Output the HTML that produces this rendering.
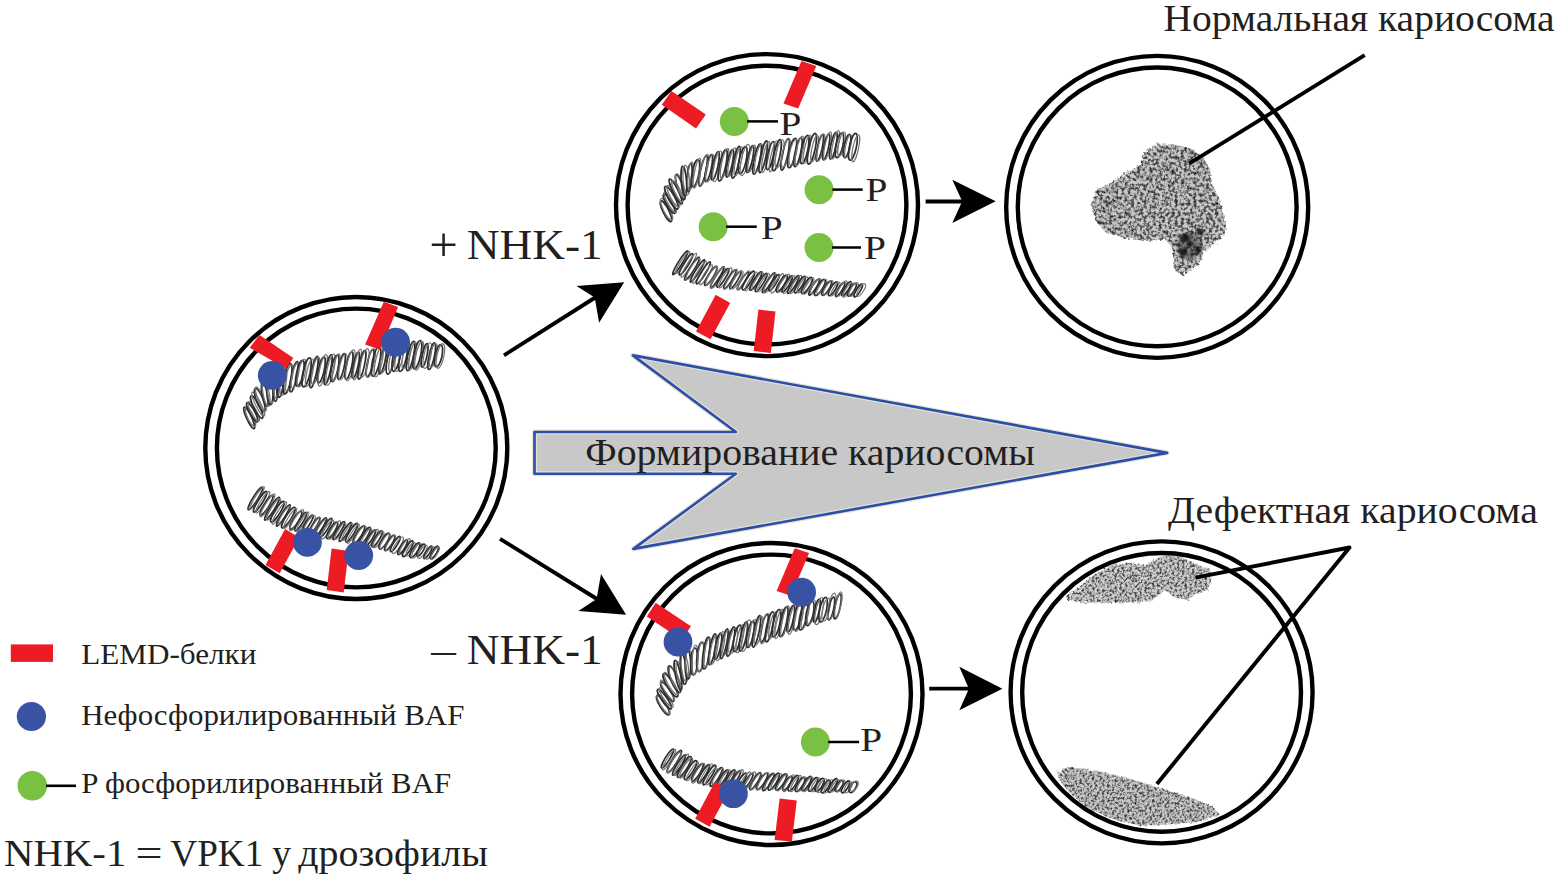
<!DOCTYPE html>
<html><head><meta charset="utf-8">
<style>
html,body{margin:0;padding:0;background:#fff;width:1555px;height:877px;overflow:hidden}
svg{display:block}
text{font-family:"Liberation Serif",serif;fill:#231f20}
</style></head><body>
<svg width="1555" height="877" viewBox="0 0 1555 877">
<defs>
<filter id="noise1" x="-5%" y="-5%" width="110%" height="110%" color-interpolation-filters="sRGB">
<feTurbulence type="fractalNoise" baseFrequency="0.32" numOctaves="3" seed="3" result="t"/>
<feDisplacementMap in="SourceGraphic" in2="t" scale="5" result="d"/>
<feColorMatrix in="t" type="matrix" values="1.1 0 0 0 -0.05  1.1 0 0 0 -0.05  1.1 0 0 0 -0.05  -4.2 0 0 0 2.7" result="a"/>
<feComposite in="a" in2="d" operator="in"/>
</filter>
<filter id="noise2" x="-5%" y="-5%" width="110%" height="110%" color-interpolation-filters="sRGB">
<feTurbulence type="fractalNoise" baseFrequency="0.4" numOctaves="3" seed="9" result="t"/>
<feDisplacementMap in="SourceGraphic" in2="t" scale="4" result="d"/>
<feColorMatrix in="t" type="matrix" values="1.1 0 0 0 0.0  1.1 0 0 0 0.0  1.1 0 0 0 0.0  -4.0 0 0 0 2.55" result="a"/>
<feComposite in="a" in2="d" operator="in"/>
</filter>
<filter id="soft" x="-20%" y="-20%" width="140%" height="140%"><feGaussianBlur stdDeviation="1.2"/></filter>
<filter id="disp1" x="-5%" y="-5%" width="110%" height="110%"><feTurbulence type="fractalNoise" baseFrequency="0.32" numOctaves="3" seed="3" result="t"/><feDisplacementMap in="SourceGraphic" in2="t" scale="5"/></filter>
</defs>
<g filter="url(#disp1)"><polygon points="1143.3,152.1 1157.0,143.6 1175.8,144.4 1191.2,149.5 1203.2,157.2 1210.0,169.2 1211.8,184.6 1220.3,200.0 1223.7,215.4 1227.2,230.8 1216.9,241.1 1204.9,251.4 1198.1,265.0 1182.7,275.3 1174.1,270.2 1172.4,247.9 1165.6,239.4 1145.0,241.1 1122.8,237.7 1105.7,232.5 1095.4,220.6 1091.1,205.2 1097.1,189.8 1114.2,181.2 1127.9,170.9 1139.9,165.8" fill="#8a8a8a" opacity="0.45"/></g><g filter="url(#noise1)"><polygon points="1143.3,152.1 1157.0,143.6 1175.8,144.4 1191.2,149.5 1203.2,157.2 1210.0,169.2 1211.8,184.6 1220.3,200.0 1223.7,215.4 1227.2,230.8 1216.9,241.1 1204.9,251.4 1198.1,265.0 1182.7,275.3 1174.1,270.2 1172.4,247.9 1165.6,239.4 1145.0,241.1 1122.8,237.7 1105.7,232.5 1095.4,220.6 1091.1,205.2 1097.1,189.8 1114.2,181.2 1127.9,170.9 1139.9,165.8" fill="#000"/></g><ellipse cx="1189" cy="246" rx="12" ry="14" fill="#222" opacity="0.45" filter="url(#soft)"/><g fill="#111" opacity="0.8" filter="url(#soft)"><ellipse cx="1185" cy="238" rx="5" ry="4"/><ellipse cx="1200" cy="232" rx="4" ry="3.5"/><ellipse cx="1183" cy="252" rx="4" ry="4"/><ellipse cx="1198" cy="250" rx="3.5" ry="3"/><ellipse cx="1190" cy="244" rx="3" ry="3"/><ellipse cx="1108" cy="203" rx="2.2" ry="2"/><ellipse cx="1100" cy="222" rx="1.6" ry="1.6"/><ellipse cx="1192" cy="152" rx="2" ry="2"/><ellipse cx="1151" cy="170" rx="2" ry="1.5"/><ellipse cx="1172" cy="172" rx="2.2" ry="1.8"/><ellipse cx="1210" cy="217" rx="1.5" ry="1.5"/></g><g filter="url(#disp1)"><polygon points="1065.8,596.8 1078.1,587.8 1095.0,574.3 1111.9,565.3 1128.8,563.0 1145.7,565.3 1155.8,559.6 1164.8,555.7 1179.4,556.8 1191.8,561.9 1201.9,566.4 1209.8,568.6 1210.9,581.0 1207.6,590.0 1196.3,593.4 1187.3,600.1 1173.8,596.8 1164.8,590.0 1151.3,601.3 1134.4,602.4 1106.3,602.4 1083.8,602.4 1066.9,600.1" fill="#8a8a8a" opacity="0.4"/></g><g filter="url(#noise2)"><polygon points="1065.8,596.8 1078.1,587.8 1095.0,574.3 1111.9,565.3 1128.8,563.0 1145.7,565.3 1155.8,559.6 1164.8,555.7 1179.4,556.8 1191.8,561.9 1201.9,566.4 1209.8,568.6 1210.9,581.0 1207.6,590.0 1196.3,593.4 1187.3,600.1 1173.8,596.8 1164.8,590.0 1151.3,601.3 1134.4,602.4 1106.3,602.4 1083.8,602.4 1066.9,600.1" fill="#000"/></g><g filter="url(#disp1)"><polygon points="1056.7,773.2 1068.3,767.1 1092.8,770.2 1123.3,776.9 1160.0,787.9 1184.4,795.2 1212.5,806.2 1219.8,814.8 1196.6,822.1 1166.1,824.5 1141.6,825.8 1111.1,818.4 1086.7,807.4 1069.6,792.8 1059.8,780.5" fill="#8a8a8a" opacity="0.45"/></g><g filter="url(#noise2)"><polygon points="1056.7,773.2 1068.3,767.1 1092.8,770.2 1123.3,776.9 1160.0,787.9 1184.4,795.2 1212.5,806.2 1219.8,814.8 1196.6,822.1 1166.1,824.5 1141.6,825.8 1111.1,818.4 1086.7,807.4 1069.6,792.8 1059.8,780.5" fill="#000"/></g><g fill="none" stroke-linejoin="round" stroke-linecap="round"><g opacity="0.92"><ellipse cx="249.2" cy="417.9" rx="2.5" ry="11.8" transform="rotate(-24.7 249.2 417.9)" stroke="#1e1e1e" stroke-width="1.70"/><ellipse cx="250.5" cy="416.8" rx="3.0" ry="10.3" transform="rotate(-24.7 250.5 416.8)" stroke="#6a6a6a" stroke-width="1.19"/><ellipse cx="252.2" cy="412.3" rx="2.5" ry="10.8" transform="rotate(-28.7 252.2 412.3)" stroke="#1e1e1e" stroke-width="1.70"/><ellipse cx="253.7" cy="411.4" rx="2.7" ry="10.9" transform="rotate(-28.7 253.7 411.4)" stroke="#6a6a6a" stroke-width="1.19"/><ellipse cx="256.7" cy="407.1" rx="2.9" ry="12.5" transform="rotate(-26.5 256.7 407.1)" stroke="#1e1e1e" stroke-width="1.70"/><ellipse cx="258.2" cy="404.1" rx="2.7" ry="13.3" transform="rotate(-26.5 258.2 404.1)" stroke="#6a6a6a" stroke-width="1.19"/><ellipse cx="259.7" cy="399.9" rx="3.4" ry="12.3" transform="rotate(-20.8 259.7 399.9)" stroke="#1e1e1e" stroke-width="1.70"/><ellipse cx="260.8" cy="399.2" rx="2.8" ry="13.2" transform="rotate(-20.8 260.8 399.2)" stroke="#6a6a6a" stroke-width="1.19"/><ellipse cx="264.8" cy="394.4" rx="2.6" ry="12.1" transform="rotate(-10.7 264.8 394.4)" stroke="#1e1e1e" stroke-width="1.70"/><ellipse cx="266.2" cy="393.7" rx="3.1" ry="12.8" transform="rotate(-10.7 266.2 393.7)" stroke="#6a6a6a" stroke-width="1.19"/><ellipse cx="269.8" cy="390.0" rx="3.2" ry="14.6" transform="rotate(-3.1 269.8 390.0)" stroke="#1e1e1e" stroke-width="1.70"/><ellipse cx="270.8" cy="389.3" rx="3.5" ry="13.8" transform="rotate(-3.1 270.8 389.3)" stroke="#6a6a6a" stroke-width="1.19"/><ellipse cx="275.7" cy="385.7" rx="2.5" ry="15.7" transform="rotate(1.5 275.7 385.7)" stroke="#1e1e1e" stroke-width="1.70"/><ellipse cx="276.7" cy="385.4" rx="3.0" ry="13.2" transform="rotate(1.5 276.7 385.4)" stroke="#6a6a6a" stroke-width="1.19"/><ellipse cx="280.4" cy="382.4" rx="3.1" ry="15.1" transform="rotate(6.2 280.4 382.4)" stroke="#1e1e1e" stroke-width="1.70"/><ellipse cx="283.3" cy="380.9" rx="3.1" ry="14.9" transform="rotate(6.2 283.3 380.9)" stroke="#6a6a6a" stroke-width="1.19"/><ellipse cx="287.5" cy="378.7" rx="3.5" ry="15.4" transform="rotate(10.7 287.5 378.7)" stroke="#1e1e1e" stroke-width="1.70"/><ellipse cx="288.9" cy="378.2" rx="3.2" ry="13.1" transform="rotate(10.7 288.9 378.2)" stroke="#6a6a6a" stroke-width="1.19"/><ellipse cx="294.0" cy="376.8" rx="2.7" ry="15.5" transform="rotate(12.0 294.0 376.8)" stroke="#1e1e1e" stroke-width="1.70"/><ellipse cx="295.2" cy="375.6" rx="3.0" ry="13.0" transform="rotate(12.0 295.2 375.6)" stroke="#6a6a6a" stroke-width="1.19"/><ellipse cx="299.9" cy="373.3" rx="3.3" ry="13.2" transform="rotate(12.0 299.9 373.3)" stroke="#1e1e1e" stroke-width="1.70"/><ellipse cx="301.6" cy="373.1" rx="3.4" ry="14.2" transform="rotate(12.0 301.6 373.1)" stroke="#6a6a6a" stroke-width="1.19"/><ellipse cx="306.6" cy="372.4" rx="3.5" ry="14.8" transform="rotate(12.0 306.6 372.4)" stroke="#1e1e1e" stroke-width="1.70"/><ellipse cx="309.6" cy="372.7" rx="2.9" ry="14.0" transform="rotate(12.0 309.6 372.7)" stroke="#6a6a6a" stroke-width="1.19"/><ellipse cx="314.0" cy="372.0" rx="2.6" ry="16.1" transform="rotate(12.0 314.0 372.0)" stroke="#1e1e1e" stroke-width="1.70"/><ellipse cx="315.5" cy="370.7" rx="3.0" ry="13.9" transform="rotate(12.0 315.5 370.7)" stroke="#6a6a6a" stroke-width="1.19"/><ellipse cx="321.3" cy="370.0" rx="2.9" ry="13.2" transform="rotate(12.0 321.3 370.0)" stroke="#1e1e1e" stroke-width="1.70"/><ellipse cx="322.7" cy="370.3" rx="3.2" ry="16.1" transform="rotate(12.0 322.7 370.3)" stroke="#6a6a6a" stroke-width="1.19"/><ellipse cx="328.1" cy="369.7" rx="2.5" ry="15.3" transform="rotate(12.0 328.1 369.7)" stroke="#1e1e1e" stroke-width="1.70"/><ellipse cx="330.5" cy="369.7" rx="3.4" ry="15.9" transform="rotate(12.0 330.5 369.7)" stroke="#6a6a6a" stroke-width="1.19"/><ellipse cx="334.8" cy="368.3" rx="3.2" ry="13.5" transform="rotate(12.0 334.8 368.3)" stroke="#1e1e1e" stroke-width="1.70"/><ellipse cx="336.1" cy="367.4" rx="2.6" ry="13.8" transform="rotate(12.0 336.1 367.4)" stroke="#6a6a6a" stroke-width="1.19"/><ellipse cx="341.6" cy="366.6" rx="2.6" ry="13.2" transform="rotate(12.0 341.6 366.6)" stroke="#1e1e1e" stroke-width="1.70"/><ellipse cx="343.0" cy="366.8" rx="3.4" ry="13.3" transform="rotate(12.0 343.0 366.8)" stroke="#6a6a6a" stroke-width="1.19"/><ellipse cx="349.0" cy="365.6" rx="2.8" ry="14.0" transform="rotate(12.0 349.0 365.6)" stroke="#1e1e1e" stroke-width="1.70"/><ellipse cx="350.4" cy="365.3" rx="3.6" ry="15.8" transform="rotate(12.0 350.4 365.3)" stroke="#6a6a6a" stroke-width="1.19"/><ellipse cx="355.7" cy="365.1" rx="2.5" ry="13.4" transform="rotate(12.0 355.7 365.1)" stroke="#1e1e1e" stroke-width="1.70"/><ellipse cx="357.3" cy="364.5" rx="2.6" ry="15.7" transform="rotate(12.0 357.3 364.5)" stroke="#6a6a6a" stroke-width="1.19"/><ellipse cx="361.9" cy="364.8" rx="2.6" ry="14.7" transform="rotate(12.0 361.9 364.8)" stroke="#1e1e1e" stroke-width="1.70"/><ellipse cx="364.5" cy="363.0" rx="3.6" ry="14.7" transform="rotate(12.0 364.5 363.0)" stroke="#6a6a6a" stroke-width="1.19"/><ellipse cx="370.1" cy="363.2" rx="2.8" ry="13.8" transform="rotate(12.0 370.1 363.2)" stroke="#1e1e1e" stroke-width="1.70"/><ellipse cx="370.8" cy="363.0" rx="3.3" ry="14.7" transform="rotate(12.0 370.8 363.0)" stroke="#6a6a6a" stroke-width="1.19"/><ellipse cx="376.1" cy="361.1" rx="3.6" ry="15.4" transform="rotate(12.0 376.1 361.1)" stroke="#1e1e1e" stroke-width="1.70"/><ellipse cx="378.7" cy="361.7" rx="3.3" ry="15.5" transform="rotate(12.0 378.7 361.7)" stroke="#6a6a6a" stroke-width="1.19"/><ellipse cx="382.8" cy="360.2" rx="2.4" ry="14.0" transform="rotate(12.0 382.8 360.2)" stroke="#1e1e1e" stroke-width="1.70"/><ellipse cx="384.3" cy="359.4" rx="3.2" ry="13.7" transform="rotate(12.0 384.3 359.4)" stroke="#6a6a6a" stroke-width="1.19"/><ellipse cx="390.9" cy="358.7" rx="3.6" ry="15.7" transform="rotate(12.0 390.9 358.7)" stroke="#1e1e1e" stroke-width="1.70"/><ellipse cx="392.6" cy="358.2" rx="2.7" ry="13.5" transform="rotate(12.0 392.6 358.2)" stroke="#6a6a6a" stroke-width="1.19"/><ellipse cx="396.5" cy="357.0" rx="3.5" ry="14.6" transform="rotate(12.0 396.5 357.0)" stroke="#1e1e1e" stroke-width="1.70"/><ellipse cx="399.3" cy="357.1" rx="3.4" ry="14.7" transform="rotate(12.0 399.3 357.1)" stroke="#6a6a6a" stroke-width="1.19"/><ellipse cx="403.2" cy="356.6" rx="3.3" ry="15.2" transform="rotate(12.0 403.2 356.6)" stroke="#1e1e1e" stroke-width="1.70"/><ellipse cx="406.1" cy="356.0" rx="3.3" ry="13.0" transform="rotate(12.0 406.1 356.0)" stroke="#6a6a6a" stroke-width="1.19"/><ellipse cx="410.6" cy="356.0" rx="2.9" ry="15.0" transform="rotate(12.0 410.6 356.0)" stroke="#1e1e1e" stroke-width="1.70"/><ellipse cx="412.5" cy="356.1" rx="2.6" ry="14.3" transform="rotate(12.0 412.5 356.1)" stroke="#6a6a6a" stroke-width="1.19"/><ellipse cx="417.3" cy="354.7" rx="3.4" ry="14.5" transform="rotate(12.0 417.3 354.7)" stroke="#1e1e1e" stroke-width="1.70"/><ellipse cx="419.1" cy="355.7" rx="3.2" ry="14.7" transform="rotate(12.0 419.1 355.7)" stroke="#6a6a6a" stroke-width="1.19"/><ellipse cx="424.6" cy="355.4" rx="2.4" ry="12.0" transform="rotate(12.0 424.6 355.4)" stroke="#1e1e1e" stroke-width="1.70"/><ellipse cx="427.4" cy="355.6" rx="3.5" ry="13.1" transform="rotate(12.0 427.4 355.6)" stroke="#6a6a6a" stroke-width="1.19"/><ellipse cx="431.7" cy="356.2" rx="2.7" ry="13.6" transform="rotate(12.0 431.7 356.2)" stroke="#1e1e1e" stroke-width="1.70"/><ellipse cx="433.3" cy="355.4" rx="3.1" ry="12.0" transform="rotate(12.0 433.3 355.4)" stroke="#6a6a6a" stroke-width="1.19"/><ellipse cx="438.5" cy="355.8" rx="3.5" ry="11.4" transform="rotate(12.0 438.5 355.8)" stroke="#1e1e1e" stroke-width="1.70"/><ellipse cx="440.4" cy="356.0" rx="3.5" ry="12.6" transform="rotate(12.0 440.4 356.0)" stroke="#6a6a6a" stroke-width="1.19"/></g><g opacity="0.92"><ellipse cx="255.4" cy="498.4" rx="2.4" ry="13.3" transform="rotate(32.0 255.4 498.4)" stroke="#1e1e1e" stroke-width="1.70"/><ellipse cx="257.1" cy="497.9" rx="2.1" ry="13.1" transform="rotate(32.0 257.1 497.9)" stroke="#6a6a6a" stroke-width="1.19"/><ellipse cx="260.2" cy="501.7" rx="2.4" ry="12.1" transform="rotate(32.0 260.2 501.7)" stroke="#1e1e1e" stroke-width="1.70"/><ellipse cx="262.8" cy="502.3" rx="2.4" ry="12.5" transform="rotate(32.0 262.8 502.3)" stroke="#6a6a6a" stroke-width="1.19"/><ellipse cx="266.5" cy="505.3" rx="2.5" ry="11.6" transform="rotate(32.0 266.5 505.3)" stroke="#1e1e1e" stroke-width="1.70"/><ellipse cx="267.5" cy="505.4" rx="2.4" ry="13.4" transform="rotate(32.0 267.5 505.4)" stroke="#6a6a6a" stroke-width="1.19"/><ellipse cx="272.0" cy="508.7" rx="2.3" ry="13.4" transform="rotate(32.0 272.0 508.7)" stroke="#1e1e1e" stroke-width="1.70"/><ellipse cx="273.6" cy="509.2" rx="2.6" ry="12.4" transform="rotate(32.0 273.6 509.2)" stroke="#6a6a6a" stroke-width="1.19"/><ellipse cx="277.4" cy="511.7" rx="2.8" ry="12.0" transform="rotate(32.0 277.4 511.7)" stroke="#1e1e1e" stroke-width="1.70"/><ellipse cx="279.3" cy="513.1" rx="2.2" ry="13.1" transform="rotate(32.0 279.3 513.1)" stroke="#6a6a6a" stroke-width="1.19"/><ellipse cx="283.3" cy="515.4" rx="2.1" ry="12.5" transform="rotate(32.0 283.3 515.4)" stroke="#1e1e1e" stroke-width="1.70"/><ellipse cx="284.2" cy="515.4" rx="2.2" ry="10.6" transform="rotate(32.0 284.2 515.4)" stroke="#6a6a6a" stroke-width="1.19"/><ellipse cx="288.4" cy="517.6" rx="2.8" ry="12.0" transform="rotate(32.0 288.4 517.6)" stroke="#1e1e1e" stroke-width="1.70"/><ellipse cx="290.2" cy="518.4" rx="2.1" ry="11.8" transform="rotate(32.0 290.2 518.4)" stroke="#6a6a6a" stroke-width="1.19"/><ellipse cx="295.8" cy="520.4" rx="2.8" ry="10.4" transform="rotate(32.0 295.8 520.4)" stroke="#1e1e1e" stroke-width="1.70"/><ellipse cx="296.7" cy="520.2" rx="2.7" ry="12.2" transform="rotate(32.0 296.7 520.2)" stroke="#6a6a6a" stroke-width="1.19"/><ellipse cx="300.8" cy="521.6" rx="2.2" ry="10.9" transform="rotate(32.0 300.8 521.6)" stroke="#1e1e1e" stroke-width="1.70"/><ellipse cx="302.6" cy="521.9" rx="1.9" ry="11.4" transform="rotate(32.0 302.6 521.9)" stroke="#6a6a6a" stroke-width="1.19"/><ellipse cx="307.7" cy="523.4" rx="2.2" ry="9.7" transform="rotate(32.0 307.7 523.4)" stroke="#1e1e1e" stroke-width="1.70"/><ellipse cx="309.5" cy="524.0" rx="2.9" ry="9.8" transform="rotate(32.0 309.5 524.0)" stroke="#6a6a6a" stroke-width="1.19"/><ellipse cx="314.3" cy="525.9" rx="2.2" ry="9.9" transform="rotate(32.0 314.3 525.9)" stroke="#1e1e1e" stroke-width="1.70"/><ellipse cx="314.9" cy="526.1" rx="2.0" ry="10.2" transform="rotate(32.0 314.9 526.1)" stroke="#6a6a6a" stroke-width="1.19"/><ellipse cx="320.1" cy="527.5" rx="2.2" ry="11.4" transform="rotate(32.0 320.1 527.5)" stroke="#1e1e1e" stroke-width="1.70"/><ellipse cx="321.4" cy="527.9" rx="2.6" ry="10.9" transform="rotate(32.0 321.4 527.9)" stroke="#6a6a6a" stroke-width="1.19"/><ellipse cx="325.8" cy="527.7" rx="2.3" ry="11.0" transform="rotate(32.0 325.8 527.7)" stroke="#1e1e1e" stroke-width="1.70"/><ellipse cx="327.6" cy="529.5" rx="2.7" ry="10.9" transform="rotate(32.0 327.6 529.5)" stroke="#6a6a6a" stroke-width="1.19"/><ellipse cx="332.1" cy="530.4" rx="2.7" ry="9.6" transform="rotate(32.0 332.1 530.4)" stroke="#1e1e1e" stroke-width="1.70"/><ellipse cx="334.5" cy="530.0" rx="2.8" ry="10.7" transform="rotate(32.0 334.5 530.0)" stroke="#6a6a6a" stroke-width="1.19"/><ellipse cx="338.8" cy="530.6" rx="2.1" ry="10.6" transform="rotate(32.0 338.8 530.6)" stroke="#1e1e1e" stroke-width="1.70"/><ellipse cx="340.3" cy="531.0" rx="2.1" ry="9.5" transform="rotate(32.0 340.3 531.0)" stroke="#6a6a6a" stroke-width="1.19"/><ellipse cx="345.3" cy="532.0" rx="2.2" ry="11.0" transform="rotate(32.0 345.3 532.0)" stroke="#1e1e1e" stroke-width="1.70"/><ellipse cx="347.3" cy="532.1" rx="1.9" ry="10.1" transform="rotate(32.0 347.3 532.1)" stroke="#6a6a6a" stroke-width="1.19"/><ellipse cx="351.6" cy="532.7" rx="2.4" ry="10.8" transform="rotate(32.0 351.6 532.7)" stroke="#1e1e1e" stroke-width="1.70"/><ellipse cx="353.2" cy="533.8" rx="2.0" ry="11.2" transform="rotate(32.0 353.2 533.8)" stroke="#6a6a6a" stroke-width="1.19"/><ellipse cx="358.9" cy="534.6" rx="2.7" ry="10.1" transform="rotate(32.0 358.9 534.6)" stroke="#1e1e1e" stroke-width="1.70"/><ellipse cx="360.0" cy="535.0" rx="2.9" ry="10.6" transform="rotate(32.0 360.0 535.0)" stroke="#6a6a6a" stroke-width="1.19"/><ellipse cx="364.5" cy="536.5" rx="2.5" ry="10.5" transform="rotate(32.0 364.5 536.5)" stroke="#1e1e1e" stroke-width="1.70"/><ellipse cx="366.3" cy="536.1" rx="2.0" ry="9.1" transform="rotate(32.0 366.3 536.1)" stroke="#6a6a6a" stroke-width="1.19"/><ellipse cx="370.4" cy="537.9" rx="2.1" ry="9.4" transform="rotate(32.0 370.4 537.9)" stroke="#1e1e1e" stroke-width="1.70"/><ellipse cx="372.1" cy="538.5" rx="2.6" ry="10.7" transform="rotate(32.0 372.1 538.5)" stroke="#6a6a6a" stroke-width="1.19"/><ellipse cx="377.0" cy="538.8" rx="2.4" ry="9.3" transform="rotate(32.0 377.0 538.8)" stroke="#1e1e1e" stroke-width="1.70"/><ellipse cx="378.5" cy="539.6" rx="2.8" ry="9.3" transform="rotate(32.0 378.5 539.6)" stroke="#6a6a6a" stroke-width="1.19"/><ellipse cx="384.3" cy="541.1" rx="2.8" ry="9.1" transform="rotate(32.0 384.3 541.1)" stroke="#1e1e1e" stroke-width="1.70"/><ellipse cx="385.0" cy="541.3" rx="2.3" ry="8.6" transform="rotate(32.0 385.0 541.3)" stroke="#6a6a6a" stroke-width="1.19"/><ellipse cx="389.8" cy="542.9" rx="2.4" ry="8.9" transform="rotate(32.0 389.8 542.9)" stroke="#1e1e1e" stroke-width="1.70"/><ellipse cx="390.7" cy="543.0" rx="2.3" ry="8.7" transform="rotate(32.0 390.7 543.0)" stroke="#6a6a6a" stroke-width="1.19"/><ellipse cx="395.3" cy="544.0" rx="2.1" ry="8.8" transform="rotate(32.0 395.3 544.0)" stroke="#1e1e1e" stroke-width="1.70"/><ellipse cx="397.9" cy="545.3" rx="2.6" ry="9.6" transform="rotate(32.0 397.9 545.3)" stroke="#6a6a6a" stroke-width="1.19"/><ellipse cx="402.6" cy="547.2" rx="2.2" ry="8.6" transform="rotate(32.0 402.6 547.2)" stroke="#1e1e1e" stroke-width="1.70"/><ellipse cx="404.8" cy="546.5" rx="2.5" ry="9.2" transform="rotate(32.0 404.8 546.5)" stroke="#6a6a6a" stroke-width="1.19"/><ellipse cx="407.8" cy="548.8" rx="2.5" ry="9.1" transform="rotate(32.0 407.8 548.8)" stroke="#1e1e1e" stroke-width="1.70"/><ellipse cx="410.7" cy="549.2" rx="2.4" ry="7.7" transform="rotate(32.0 410.7 549.2)" stroke="#6a6a6a" stroke-width="1.19"/><ellipse cx="414.9" cy="550.2" rx="2.7" ry="8.5" transform="rotate(32.0 414.9 550.2)" stroke="#1e1e1e" stroke-width="1.70"/><ellipse cx="416.8" cy="550.7" rx="2.6" ry="8.3" transform="rotate(32.0 416.8 550.7)" stroke="#6a6a6a" stroke-width="1.19"/><ellipse cx="420.8" cy="550.2" rx="2.3" ry="7.0" transform="rotate(32.0 420.8 550.2)" stroke="#1e1e1e" stroke-width="1.70"/><ellipse cx="422.4" cy="551.8" rx="2.5" ry="7.7" transform="rotate(32.0 422.4 551.8)" stroke="#6a6a6a" stroke-width="1.19"/><ellipse cx="427.9" cy="552.4" rx="1.9" ry="7.2" transform="rotate(32.0 427.9 552.4)" stroke="#1e1e1e" stroke-width="1.70"/><ellipse cx="429.9" cy="552.8" rx="2.4" ry="7.2" transform="rotate(32.0 429.9 552.8)" stroke="#6a6a6a" stroke-width="1.19"/><ellipse cx="434.3" cy="552.5" rx="2.2" ry="7.2" transform="rotate(32.0 434.3 552.5)" stroke="#1e1e1e" stroke-width="1.70"/><ellipse cx="435.2" cy="553.1" rx="2.1" ry="7.2" transform="rotate(32.0 435.2 553.1)" stroke="#6a6a6a" stroke-width="1.19"/></g><g opacity="0.92"><ellipse cx="666.0" cy="211.3" rx="2.9" ry="11.4" transform="rotate(-26.6 666.0 211.3)" stroke="#1e1e1e" stroke-width="1.70"/><ellipse cx="666.5" cy="209.3" rx="3.1" ry="12.0" transform="rotate(-26.6 666.5 209.3)" stroke="#6a6a6a" stroke-width="1.19"/><ellipse cx="669.2" cy="203.7" rx="2.7" ry="11.0" transform="rotate(-29.6 669.2 203.7)" stroke="#1e1e1e" stroke-width="1.70"/><ellipse cx="670.2" cy="202.4" rx="2.4" ry="12.0" transform="rotate(-29.6 670.2 202.4)" stroke="#6a6a6a" stroke-width="1.19"/><ellipse cx="671.5" cy="197.8" rx="3.2" ry="12.8" transform="rotate(-28.8 671.5 197.8)" stroke="#1e1e1e" stroke-width="1.70"/><ellipse cx="673.4" cy="196.3" rx="3.0" ry="12.4" transform="rotate(-28.8 673.4 196.3)" stroke="#6a6a6a" stroke-width="1.19"/><ellipse cx="675.7" cy="191.5" rx="2.6" ry="13.8" transform="rotate(-26.1 675.7 191.5)" stroke="#1e1e1e" stroke-width="1.70"/><ellipse cx="677.5" cy="191.3" rx="3.0" ry="11.5" transform="rotate(-26.1 677.5 191.3)" stroke="#6a6a6a" stroke-width="1.19"/><ellipse cx="680.2" cy="187.1" rx="2.7" ry="13.1" transform="rotate(-17.7 680.2 187.1)" stroke="#1e1e1e" stroke-width="1.70"/><ellipse cx="680.3" cy="185.6" rx="3.1" ry="12.4" transform="rotate(-17.7 680.3 185.6)" stroke="#6a6a6a" stroke-width="1.19"/><ellipse cx="683.9" cy="181.3" rx="2.6" ry="15.0" transform="rotate(-4.3 683.9 181.3)" stroke="#1e1e1e" stroke-width="1.70"/><ellipse cx="686.3" cy="180.1" rx="3.2" ry="14.8" transform="rotate(-4.3 686.3 180.1)" stroke="#6a6a6a" stroke-width="1.19"/><ellipse cx="689.6" cy="177.6" rx="2.4" ry="14.1" transform="rotate(4.6 689.6 177.6)" stroke="#1e1e1e" stroke-width="1.70"/><ellipse cx="690.7" cy="176.0" rx="2.8" ry="14.0" transform="rotate(4.6 690.7 176.0)" stroke="#6a6a6a" stroke-width="1.19"/><ellipse cx="695.5" cy="173.3" rx="3.4" ry="13.8" transform="rotate(10.9 695.5 173.3)" stroke="#1e1e1e" stroke-width="1.70"/><ellipse cx="696.9" cy="173.1" rx="2.5" ry="15.3" transform="rotate(10.9 696.9 173.1)" stroke="#6a6a6a" stroke-width="1.19"/><ellipse cx="703.2" cy="171.0" rx="2.7" ry="15.6" transform="rotate(12.0 703.2 171.0)" stroke="#1e1e1e" stroke-width="1.70"/><ellipse cx="704.0" cy="169.8" rx="3.1" ry="15.9" transform="rotate(12.0 704.0 169.8)" stroke="#6a6a6a" stroke-width="1.19"/><ellipse cx="708.8" cy="168.1" rx="2.5" ry="13.8" transform="rotate(12.0 708.8 168.1)" stroke="#1e1e1e" stroke-width="1.70"/><ellipse cx="710.1" cy="168.2" rx="3.5" ry="13.8" transform="rotate(12.0 710.1 168.2)" stroke="#6a6a6a" stroke-width="1.19"/><ellipse cx="715.3" cy="165.8" rx="2.6" ry="14.6" transform="rotate(12.0 715.3 165.8)" stroke="#1e1e1e" stroke-width="1.70"/><ellipse cx="717.3" cy="166.4" rx="3.4" ry="15.7" transform="rotate(12.0 717.3 166.4)" stroke="#6a6a6a" stroke-width="1.19"/><ellipse cx="722.7" cy="165.2" rx="3.1" ry="16.0" transform="rotate(12.0 722.7 165.2)" stroke="#1e1e1e" stroke-width="1.70"/><ellipse cx="724.6" cy="163.4" rx="2.9" ry="15.3" transform="rotate(12.0 724.6 163.4)" stroke="#6a6a6a" stroke-width="1.19"/><ellipse cx="729.8" cy="163.4" rx="2.5" ry="14.0" transform="rotate(12.0 729.8 163.4)" stroke="#1e1e1e" stroke-width="1.70"/><ellipse cx="731.9" cy="162.2" rx="2.8" ry="14.6" transform="rotate(12.0 731.9 162.2)" stroke="#6a6a6a" stroke-width="1.19"/><ellipse cx="736.0" cy="162.3" rx="2.7" ry="16.2" transform="rotate(12.0 736.0 162.3)" stroke="#1e1e1e" stroke-width="1.70"/><ellipse cx="738.3" cy="161.3" rx="2.9" ry="14.9" transform="rotate(12.0 738.3 161.3)" stroke="#6a6a6a" stroke-width="1.19"/><ellipse cx="742.7" cy="160.2" rx="3.5" ry="13.8" transform="rotate(12.0 742.7 160.2)" stroke="#1e1e1e" stroke-width="1.70"/><ellipse cx="745.0" cy="160.0" rx="3.6" ry="16.0" transform="rotate(12.0 745.0 160.0)" stroke="#6a6a6a" stroke-width="1.19"/><ellipse cx="750.0" cy="159.0" rx="2.5" ry="13.8" transform="rotate(12.0 750.0 159.0)" stroke="#1e1e1e" stroke-width="1.70"/><ellipse cx="751.6" cy="158.6" rx="2.7" ry="13.9" transform="rotate(12.0 751.6 158.6)" stroke="#6a6a6a" stroke-width="1.19"/><ellipse cx="757.1" cy="159.0" rx="2.9" ry="15.5" transform="rotate(12.0 757.1 159.0)" stroke="#1e1e1e" stroke-width="1.70"/><ellipse cx="758.6" cy="158.1" rx="2.8" ry="14.3" transform="rotate(12.0 758.6 158.1)" stroke="#6a6a6a" stroke-width="1.19"/><ellipse cx="763.2" cy="156.8" rx="2.6" ry="16.2" transform="rotate(12.0 763.2 156.8)" stroke="#1e1e1e" stroke-width="1.70"/><ellipse cx="765.7" cy="157.1" rx="2.7" ry="15.8" transform="rotate(12.0 765.7 157.1)" stroke="#6a6a6a" stroke-width="1.19"/><ellipse cx="770.4" cy="155.6" rx="2.9" ry="14.4" transform="rotate(12.0 770.4 155.6)" stroke="#1e1e1e" stroke-width="1.70"/><ellipse cx="773.3" cy="156.3" rx="2.4" ry="15.9" transform="rotate(12.0 773.3 156.3)" stroke="#6a6a6a" stroke-width="1.19"/><ellipse cx="776.9" cy="155.2" rx="3.0" ry="15.9" transform="rotate(12.0 776.9 155.2)" stroke="#1e1e1e" stroke-width="1.70"/><ellipse cx="779.6" cy="153.8" rx="3.5" ry="14.4" transform="rotate(12.0 779.6 153.8)" stroke="#6a6a6a" stroke-width="1.19"/><ellipse cx="785.1" cy="154.3" rx="2.7" ry="16.1" transform="rotate(12.0 785.1 154.3)" stroke="#1e1e1e" stroke-width="1.70"/><ellipse cx="785.8" cy="152.9" rx="3.2" ry="14.7" transform="rotate(12.0 785.8 152.9)" stroke="#6a6a6a" stroke-width="1.19"/><ellipse cx="792.2" cy="153.0" rx="3.3" ry="15.0" transform="rotate(12.0 792.2 153.0)" stroke="#1e1e1e" stroke-width="1.70"/><ellipse cx="793.2" cy="152.4" rx="3.3" ry="13.1" transform="rotate(12.0 793.2 152.4)" stroke="#6a6a6a" stroke-width="1.19"/><ellipse cx="798.0" cy="152.1" rx="2.8" ry="14.9" transform="rotate(12.0 798.0 152.1)" stroke="#1e1e1e" stroke-width="1.70"/><ellipse cx="799.6" cy="150.8" rx="3.2" ry="14.9" transform="rotate(12.0 799.6 150.8)" stroke="#6a6a6a" stroke-width="1.19"/><ellipse cx="804.7" cy="149.5" rx="3.1" ry="14.5" transform="rotate(12.0 804.7 149.5)" stroke="#1e1e1e" stroke-width="1.70"/><ellipse cx="806.9" cy="149.4" rx="2.4" ry="14.7" transform="rotate(12.0 806.9 149.4)" stroke="#6a6a6a" stroke-width="1.19"/><ellipse cx="811.9" cy="148.8" rx="3.2" ry="15.7" transform="rotate(12.0 811.9 148.8)" stroke="#1e1e1e" stroke-width="1.70"/><ellipse cx="814.6" cy="148.5" rx="2.7" ry="13.5" transform="rotate(12.0 814.6 148.5)" stroke="#6a6a6a" stroke-width="1.19"/><ellipse cx="819.8" cy="147.9" rx="2.4" ry="13.6" transform="rotate(12.0 819.8 147.9)" stroke="#1e1e1e" stroke-width="1.70"/><ellipse cx="820.8" cy="147.5" rx="2.7" ry="13.9" transform="rotate(12.0 820.8 147.5)" stroke="#6a6a6a" stroke-width="1.19"/><ellipse cx="826.2" cy="147.0" rx="2.4" ry="13.1" transform="rotate(12.0 826.2 147.0)" stroke="#1e1e1e" stroke-width="1.70"/><ellipse cx="827.5" cy="145.9" rx="2.6" ry="14.4" transform="rotate(12.0 827.5 145.9)" stroke="#6a6a6a" stroke-width="1.19"/><ellipse cx="833.4" cy="145.7" rx="2.6" ry="13.6" transform="rotate(12.0 833.4 145.7)" stroke="#1e1e1e" stroke-width="1.70"/><ellipse cx="835.4" cy="144.8" rx="2.7" ry="14.5" transform="rotate(12.0 835.4 144.8)" stroke="#6a6a6a" stroke-width="1.19"/><ellipse cx="839.4" cy="145.2" rx="3.5" ry="12.7" transform="rotate(12.0 839.4 145.2)" stroke="#1e1e1e" stroke-width="1.70"/><ellipse cx="841.6" cy="144.2" rx="2.9" ry="12.5" transform="rotate(12.0 841.6 144.2)" stroke="#6a6a6a" stroke-width="1.19"/><ellipse cx="847.1" cy="146.0" rx="2.9" ry="12.0" transform="rotate(12.0 847.1 146.0)" stroke="#1e1e1e" stroke-width="1.70"/><ellipse cx="848.1" cy="146.3" rx="2.5" ry="12.0" transform="rotate(12.0 848.1 146.3)" stroke="#6a6a6a" stroke-width="1.19"/><ellipse cx="852.9" cy="146.8" rx="3.5" ry="13.7" transform="rotate(12.0 852.9 146.8)" stroke="#1e1e1e" stroke-width="1.70"/><ellipse cx="855.7" cy="148.3" rx="2.8" ry="13.8" transform="rotate(12.0 855.7 148.3)" stroke="#6a6a6a" stroke-width="1.19"/></g><g opacity="0.92"><ellipse cx="680.3" cy="262.7" rx="2.0" ry="14.0" transform="rotate(32.0 680.3 262.7)" stroke="#1e1e1e" stroke-width="1.70"/><ellipse cx="682.7" cy="262.6" rx="2.2" ry="12.9" transform="rotate(32.0 682.7 262.6)" stroke="#6a6a6a" stroke-width="1.19"/><ellipse cx="686.0" cy="264.3" rx="2.3" ry="12.4" transform="rotate(32.0 686.0 264.3)" stroke="#1e1e1e" stroke-width="1.70"/><ellipse cx="688.8" cy="265.4" rx="2.1" ry="14.2" transform="rotate(32.0 688.8 265.4)" stroke="#6a6a6a" stroke-width="1.19"/><ellipse cx="692.0" cy="268.7" rx="2.3" ry="13.5" transform="rotate(32.0 692.0 268.7)" stroke="#1e1e1e" stroke-width="1.70"/><ellipse cx="693.1" cy="269.0" rx="2.8" ry="12.3" transform="rotate(32.0 693.1 269.0)" stroke="#6a6a6a" stroke-width="1.19"/><ellipse cx="697.5" cy="270.9" rx="1.9" ry="13.3" transform="rotate(32.0 697.5 270.9)" stroke="#1e1e1e" stroke-width="1.70"/><ellipse cx="699.5" cy="272.4" rx="2.0" ry="13.0" transform="rotate(32.0 699.5 272.4)" stroke="#6a6a6a" stroke-width="1.19"/><ellipse cx="703.3" cy="272.9" rx="2.2" ry="13.0" transform="rotate(32.0 703.3 272.9)" stroke="#1e1e1e" stroke-width="1.70"/><ellipse cx="706.1" cy="274.9" rx="2.2" ry="11.6" transform="rotate(32.0 706.1 274.9)" stroke="#6a6a6a" stroke-width="1.19"/><ellipse cx="710.9" cy="275.8" rx="2.6" ry="11.1" transform="rotate(32.0 710.9 275.8)" stroke="#1e1e1e" stroke-width="1.70"/><ellipse cx="711.6" cy="275.8" rx="2.6" ry="10.4" transform="rotate(32.0 711.6 275.8)" stroke="#6a6a6a" stroke-width="1.19"/><ellipse cx="717.2" cy="277.3" rx="1.9" ry="12.4" transform="rotate(32.0 717.2 277.3)" stroke="#1e1e1e" stroke-width="1.70"/><ellipse cx="717.9" cy="277.4" rx="2.8" ry="12.4" transform="rotate(32.0 717.9 277.4)" stroke="#6a6a6a" stroke-width="1.19"/><ellipse cx="722.8" cy="277.8" rx="2.4" ry="10.8" transform="rotate(32.0 722.8 277.8)" stroke="#1e1e1e" stroke-width="1.70"/><ellipse cx="725.4" cy="277.9" rx="2.6" ry="11.7" transform="rotate(32.0 725.4 277.9)" stroke="#6a6a6a" stroke-width="1.19"/><ellipse cx="729.9" cy="279.4" rx="2.2" ry="11.1" transform="rotate(32.0 729.9 279.4)" stroke="#1e1e1e" stroke-width="1.70"/><ellipse cx="730.9" cy="279.0" rx="2.0" ry="11.5" transform="rotate(32.0 730.9 279.0)" stroke="#6a6a6a" stroke-width="1.19"/><ellipse cx="735.4" cy="280.1" rx="2.0" ry="10.2" transform="rotate(32.0 735.4 280.1)" stroke="#1e1e1e" stroke-width="1.70"/><ellipse cx="736.9" cy="279.9" rx="2.9" ry="10.4" transform="rotate(32.0 736.9 279.9)" stroke="#6a6a6a" stroke-width="1.19"/><ellipse cx="742.9" cy="281.0" rx="2.0" ry="10.2" transform="rotate(32.0 742.9 281.0)" stroke="#1e1e1e" stroke-width="1.70"/><ellipse cx="743.5" cy="280.4" rx="2.3" ry="11.2" transform="rotate(32.0 743.5 280.4)" stroke="#6a6a6a" stroke-width="1.19"/><ellipse cx="748.4" cy="280.6" rx="2.6" ry="10.9" transform="rotate(32.0 748.4 280.6)" stroke="#1e1e1e" stroke-width="1.70"/><ellipse cx="751.0" cy="281.5" rx="2.0" ry="11.0" transform="rotate(32.0 751.0 281.5)" stroke="#6a6a6a" stroke-width="1.19"/><ellipse cx="755.8" cy="281.0" rx="2.3" ry="10.8" transform="rotate(32.0 755.8 281.0)" stroke="#1e1e1e" stroke-width="1.70"/><ellipse cx="757.5" cy="281.0" rx="2.2" ry="10.0" transform="rotate(32.0 757.5 281.0)" stroke="#6a6a6a" stroke-width="1.19"/><ellipse cx="761.2" cy="282.5" rx="2.2" ry="10.7" transform="rotate(32.0 761.2 282.5)" stroke="#1e1e1e" stroke-width="1.70"/><ellipse cx="763.4" cy="282.8" rx="2.1" ry="10.6" transform="rotate(32.0 763.4 282.8)" stroke="#6a6a6a" stroke-width="1.19"/><ellipse cx="768.7" cy="282.7" rx="2.0" ry="11.6" transform="rotate(32.0 768.7 282.7)" stroke="#1e1e1e" stroke-width="1.70"/><ellipse cx="770.0" cy="283.2" rx="2.8" ry="11.2" transform="rotate(32.0 770.0 283.2)" stroke="#6a6a6a" stroke-width="1.19"/><ellipse cx="774.0" cy="282.8" rx="2.1" ry="9.5" transform="rotate(32.0 774.0 282.8)" stroke="#1e1e1e" stroke-width="1.70"/><ellipse cx="777.3" cy="283.4" rx="2.3" ry="11.3" transform="rotate(32.0 777.3 283.4)" stroke="#6a6a6a" stroke-width="1.19"/><ellipse cx="781.8" cy="283.6" rx="2.7" ry="9.7" transform="rotate(32.0 781.8 283.6)" stroke="#1e1e1e" stroke-width="1.70"/><ellipse cx="783.7" cy="283.2" rx="2.5" ry="10.5" transform="rotate(32.0 783.7 283.2)" stroke="#6a6a6a" stroke-width="1.19"/><ellipse cx="787.2" cy="284.0" rx="2.1" ry="9.4" transform="rotate(32.0 787.2 284.0)" stroke="#1e1e1e" stroke-width="1.70"/><ellipse cx="789.1" cy="284.6" rx="2.1" ry="10.4" transform="rotate(32.0 789.1 284.6)" stroke="#6a6a6a" stroke-width="1.19"/><ellipse cx="793.3" cy="284.5" rx="2.1" ry="10.4" transform="rotate(32.0 793.3 284.5)" stroke="#1e1e1e" stroke-width="1.70"/><ellipse cx="795.6" cy="284.5" rx="2.4" ry="10.6" transform="rotate(32.0 795.6 284.5)" stroke="#6a6a6a" stroke-width="1.19"/><ellipse cx="799.9" cy="284.7" rx="2.4" ry="9.6" transform="rotate(32.0 799.9 284.7)" stroke="#1e1e1e" stroke-width="1.70"/><ellipse cx="802.6" cy="284.8" rx="2.6" ry="9.2" transform="rotate(32.0 802.6 284.8)" stroke="#6a6a6a" stroke-width="1.19"/><ellipse cx="806.9" cy="285.5" rx="2.8" ry="9.3" transform="rotate(32.0 806.9 285.5)" stroke="#1e1e1e" stroke-width="1.70"/><ellipse cx="808.6" cy="286.1" rx="2.3" ry="9.4" transform="rotate(32.0 808.6 286.1)" stroke="#6a6a6a" stroke-width="1.19"/><ellipse cx="814.1" cy="287.2" rx="2.1" ry="9.3" transform="rotate(32.0 814.1 287.2)" stroke="#1e1e1e" stroke-width="1.70"/><ellipse cx="815.7" cy="286.1" rx="2.8" ry="8.6" transform="rotate(32.0 815.7 286.1)" stroke="#6a6a6a" stroke-width="1.19"/><ellipse cx="819.9" cy="287.5" rx="2.8" ry="9.2" transform="rotate(32.0 819.9 287.5)" stroke="#1e1e1e" stroke-width="1.70"/><ellipse cx="821.8" cy="286.6" rx="2.4" ry="8.4" transform="rotate(32.0 821.8 286.6)" stroke="#6a6a6a" stroke-width="1.19"/><ellipse cx="826.7" cy="288.2" rx="2.5" ry="8.2" transform="rotate(32.0 826.7 288.2)" stroke="#1e1e1e" stroke-width="1.70"/><ellipse cx="828.1" cy="287.7" rx="2.2" ry="8.3" transform="rotate(32.0 828.1 287.7)" stroke="#6a6a6a" stroke-width="1.19"/><ellipse cx="833.0" cy="288.8" rx="2.4" ry="7.9" transform="rotate(32.0 833.0 288.8)" stroke="#1e1e1e" stroke-width="1.70"/><ellipse cx="835.3" cy="289.0" rx="2.0" ry="8.0" transform="rotate(32.0 835.3 289.0)" stroke="#6a6a6a" stroke-width="1.19"/><ellipse cx="840.2" cy="289.5" rx="2.0" ry="8.2" transform="rotate(32.0 840.2 289.5)" stroke="#1e1e1e" stroke-width="1.70"/><ellipse cx="841.9" cy="288.7" rx="2.5" ry="8.9" transform="rotate(32.0 841.9 288.7)" stroke="#6a6a6a" stroke-width="1.19"/><ellipse cx="846.5" cy="288.7" rx="2.1" ry="8.3" transform="rotate(32.0 846.5 288.7)" stroke="#1e1e1e" stroke-width="1.70"/><ellipse cx="847.6" cy="290.0" rx="2.1" ry="8.3" transform="rotate(32.0 847.6 290.0)" stroke="#6a6a6a" stroke-width="1.19"/><ellipse cx="852.0" cy="289.7" rx="2.3" ry="7.4" transform="rotate(32.0 852.0 289.7)" stroke="#1e1e1e" stroke-width="1.70"/><ellipse cx="853.6" cy="289.6" rx="2.8" ry="7.8" transform="rotate(32.0 853.6 289.6)" stroke="#6a6a6a" stroke-width="1.19"/><ellipse cx="858.2" cy="290.6" rx="2.0" ry="7.4" transform="rotate(32.0 858.2 290.6)" stroke="#1e1e1e" stroke-width="1.70"/><ellipse cx="861.2" cy="290.0" rx="2.4" ry="7.2" transform="rotate(32.0 861.2 290.0)" stroke="#6a6a6a" stroke-width="1.19"/></g><g opacity="0.92"><ellipse cx="663.0" cy="705.2" rx="3.1" ry="11.2" transform="rotate(-32.0 663.0 705.2)" stroke="#1e1e1e" stroke-width="1.70"/><ellipse cx="663.4" cy="704.1" rx="2.9" ry="11.3" transform="rotate(-32.0 663.4 704.1)" stroke="#6a6a6a" stroke-width="1.19"/><ellipse cx="664.4" cy="699.1" rx="2.7" ry="11.8" transform="rotate(-34.8 664.4 699.1)" stroke="#1e1e1e" stroke-width="1.70"/><ellipse cx="666.1" cy="697.6" rx="2.6" ry="11.8" transform="rotate(-34.8 666.1 697.6)" stroke="#6a6a6a" stroke-width="1.19"/><ellipse cx="667.4" cy="691.7" rx="2.9" ry="11.4" transform="rotate(-33.5 667.4 691.7)" stroke="#1e1e1e" stroke-width="1.70"/><ellipse cx="667.5" cy="690.5" rx="2.4" ry="12.4" transform="rotate(-33.5 667.5 690.5)" stroke="#6a6a6a" stroke-width="1.19"/><ellipse cx="670.4" cy="685.2" rx="3.3" ry="13.4" transform="rotate(-30.5 670.4 685.2)" stroke="#1e1e1e" stroke-width="1.70"/><ellipse cx="671.0" cy="683.5" rx="2.9" ry="12.8" transform="rotate(-30.5 671.0 683.5)" stroke="#6a6a6a" stroke-width="1.19"/><ellipse cx="674.4" cy="679.2" rx="3.6" ry="14.3" transform="rotate(-22.2 674.4 679.2)" stroke="#1e1e1e" stroke-width="1.70"/><ellipse cx="675.0" cy="678.8" rx="3.6" ry="12.4" transform="rotate(-22.2 675.0 678.8)" stroke="#6a6a6a" stroke-width="1.19"/><ellipse cx="678.0" cy="675.1" rx="2.6" ry="15.0" transform="rotate(-11.0 678.0 675.1)" stroke="#1e1e1e" stroke-width="1.70"/><ellipse cx="679.7" cy="673.7" rx="2.8" ry="12.5" transform="rotate(-11.0 679.7 673.7)" stroke="#6a6a6a" stroke-width="1.19"/><ellipse cx="683.4" cy="668.9" rx="2.7" ry="15.4" transform="rotate(-5.7 683.4 668.9)" stroke="#1e1e1e" stroke-width="1.70"/><ellipse cx="684.9" cy="667.6" rx="3.5" ry="14.2" transform="rotate(-5.7 684.9 667.6)" stroke="#6a6a6a" stroke-width="1.19"/><ellipse cx="687.9" cy="664.5" rx="2.8" ry="14.3" transform="rotate(-0.5 687.9 664.5)" stroke="#1e1e1e" stroke-width="1.70"/><ellipse cx="689.1" cy="663.3" rx="3.5" ry="13.3" transform="rotate(-0.5 689.1 663.3)" stroke="#6a6a6a" stroke-width="1.19"/><ellipse cx="694.3" cy="661.4" rx="3.3" ry="13.4" transform="rotate(3.1 694.3 661.4)" stroke="#1e1e1e" stroke-width="1.70"/><ellipse cx="694.9" cy="659.8" rx="2.8" ry="14.8" transform="rotate(3.1 694.9 659.8)" stroke="#6a6a6a" stroke-width="1.19"/><ellipse cx="700.5" cy="657.0" rx="3.5" ry="14.7" transform="rotate(5.9 700.5 657.0)" stroke="#1e1e1e" stroke-width="1.70"/><ellipse cx="700.8" cy="656.8" rx="2.9" ry="14.9" transform="rotate(5.9 700.8 656.8)" stroke="#6a6a6a" stroke-width="1.19"/><ellipse cx="706.3" cy="653.0" rx="3.1" ry="16.1" transform="rotate(8.1 706.3 653.0)" stroke="#1e1e1e" stroke-width="1.70"/><ellipse cx="707.2" cy="652.9" rx="2.6" ry="14.4" transform="rotate(8.1 707.2 652.9)" stroke="#6a6a6a" stroke-width="1.19"/><ellipse cx="712.4" cy="649.3" rx="2.7" ry="15.6" transform="rotate(10.6 712.4 649.3)" stroke="#1e1e1e" stroke-width="1.70"/><ellipse cx="713.9" cy="650.0" rx="3.2" ry="14.9" transform="rotate(10.6 713.9 650.0)" stroke="#6a6a6a" stroke-width="1.19"/><ellipse cx="718.1" cy="646.2" rx="2.6" ry="13.3" transform="rotate(12.0 718.1 646.2)" stroke="#1e1e1e" stroke-width="1.70"/><ellipse cx="720.2" cy="646.2" rx="3.5" ry="14.8" transform="rotate(12.0 720.2 646.2)" stroke="#6a6a6a" stroke-width="1.19"/><ellipse cx="724.2" cy="643.7" rx="2.4" ry="15.2" transform="rotate(12.0 724.2 643.7)" stroke="#1e1e1e" stroke-width="1.70"/><ellipse cx="725.6" cy="643.2" rx="2.8" ry="13.5" transform="rotate(12.0 725.6 643.2)" stroke="#6a6a6a" stroke-width="1.19"/><ellipse cx="730.8" cy="641.6" rx="2.6" ry="15.0" transform="rotate(12.0 730.8 641.6)" stroke="#1e1e1e" stroke-width="1.70"/><ellipse cx="733.1" cy="640.8" rx="3.5" ry="13.6" transform="rotate(12.0 733.1 640.8)" stroke="#6a6a6a" stroke-width="1.19"/><ellipse cx="737.3" cy="638.3" rx="3.2" ry="13.5" transform="rotate(12.0 737.3 638.3)" stroke="#1e1e1e" stroke-width="1.70"/><ellipse cx="740.0" cy="638.7" rx="2.7" ry="14.4" transform="rotate(12.0 740.0 638.7)" stroke="#6a6a6a" stroke-width="1.19"/><ellipse cx="743.4" cy="636.5" rx="2.8" ry="14.9" transform="rotate(12.0 743.4 636.5)" stroke="#1e1e1e" stroke-width="1.70"/><ellipse cx="746.1" cy="635.6" rx="3.3" ry="16.1" transform="rotate(12.0 746.1 635.6)" stroke="#6a6a6a" stroke-width="1.19"/><ellipse cx="750.4" cy="634.4" rx="3.0" ry="13.3" transform="rotate(12.0 750.4 634.4)" stroke="#1e1e1e" stroke-width="1.70"/><ellipse cx="752.3" cy="632.7" rx="3.3" ry="13.4" transform="rotate(12.0 752.3 632.7)" stroke="#6a6a6a" stroke-width="1.19"/><ellipse cx="756.5" cy="631.3" rx="2.6" ry="16.1" transform="rotate(12.0 756.5 631.3)" stroke="#1e1e1e" stroke-width="1.70"/><ellipse cx="758.5" cy="630.8" rx="3.2" ry="14.7" transform="rotate(12.0 758.5 630.8)" stroke="#6a6a6a" stroke-width="1.19"/><ellipse cx="764.3" cy="628.2" rx="2.8" ry="14.1" transform="rotate(12.0 764.3 628.2)" stroke="#1e1e1e" stroke-width="1.70"/><ellipse cx="764.8" cy="628.7" rx="3.3" ry="15.5" transform="rotate(12.0 764.8 628.7)" stroke="#6a6a6a" stroke-width="1.19"/><ellipse cx="769.6" cy="626.9" rx="3.0" ry="15.3" transform="rotate(12.0 769.6 626.9)" stroke="#1e1e1e" stroke-width="1.70"/><ellipse cx="772.5" cy="625.6" rx="2.5" ry="13.7" transform="rotate(12.0 772.5 625.6)" stroke="#6a6a6a" stroke-width="1.19"/><ellipse cx="776.5" cy="623.2" rx="3.3" ry="14.0" transform="rotate(12.0 776.5 623.2)" stroke="#1e1e1e" stroke-width="1.70"/><ellipse cx="779.0" cy="623.9" rx="2.7" ry="15.1" transform="rotate(12.0 779.0 623.9)" stroke="#6a6a6a" stroke-width="1.19"/><ellipse cx="783.7" cy="621.6" rx="3.0" ry="15.3" transform="rotate(12.0 783.7 621.6)" stroke="#1e1e1e" stroke-width="1.70"/><ellipse cx="784.9" cy="621.3" rx="2.7" ry="15.8" transform="rotate(12.0 784.9 621.3)" stroke="#6a6a6a" stroke-width="1.19"/><ellipse cx="790.8" cy="618.7" rx="2.7" ry="13.6" transform="rotate(12.0 790.8 618.7)" stroke="#1e1e1e" stroke-width="1.70"/><ellipse cx="792.3" cy="619.6" rx="2.8" ry="15.1" transform="rotate(12.0 792.3 619.6)" stroke="#6a6a6a" stroke-width="1.19"/><ellipse cx="797.5" cy="617.0" rx="3.5" ry="13.5" transform="rotate(12.0 797.5 617.0)" stroke="#1e1e1e" stroke-width="1.70"/><ellipse cx="798.8" cy="617.1" rx="3.6" ry="14.8" transform="rotate(12.0 798.8 617.1)" stroke="#6a6a6a" stroke-width="1.19"/><ellipse cx="803.5" cy="615.8" rx="3.4" ry="14.5" transform="rotate(12.0 803.5 615.8)" stroke="#1e1e1e" stroke-width="1.70"/><ellipse cx="805.2" cy="615.0" rx="2.8" ry="14.2" transform="rotate(12.0 805.2 615.0)" stroke="#6a6a6a" stroke-width="1.19"/><ellipse cx="809.8" cy="613.4" rx="3.5" ry="12.4" transform="rotate(12.0 809.8 613.4)" stroke="#1e1e1e" stroke-width="1.70"/><ellipse cx="811.4" cy="612.0" rx="3.5" ry="12.5" transform="rotate(12.0 811.4 612.0)" stroke="#6a6a6a" stroke-width="1.19"/><ellipse cx="816.8" cy="610.8" rx="2.4" ry="12.0" transform="rotate(12.0 816.8 610.8)" stroke="#1e1e1e" stroke-width="1.70"/><ellipse cx="819.1" cy="611.1" rx="3.3" ry="13.9" transform="rotate(12.0 819.1 611.1)" stroke="#6a6a6a" stroke-width="1.19"/><ellipse cx="823.1" cy="609.7" rx="3.4" ry="12.6" transform="rotate(12.0 823.1 609.7)" stroke="#1e1e1e" stroke-width="1.70"/><ellipse cx="826.0" cy="609.7" rx="3.4" ry="11.8" transform="rotate(12.0 826.0 609.7)" stroke="#6a6a6a" stroke-width="1.19"/><ellipse cx="831.2" cy="608.5" rx="2.6" ry="11.7" transform="rotate(12.0 831.2 608.5)" stroke="#1e1e1e" stroke-width="1.70"/><ellipse cx="831.7" cy="606.5" rx="3.4" ry="13.6" transform="rotate(12.0 831.7 606.5)" stroke="#6a6a6a" stroke-width="1.19"/><ellipse cx="837.5" cy="606.5" rx="2.7" ry="12.7" transform="rotate(12.0 837.5 606.5)" stroke="#1e1e1e" stroke-width="1.70"/><ellipse cx="838.4" cy="604.8" rx="2.6" ry="13.1" transform="rotate(12.0 838.4 604.8)" stroke="#6a6a6a" stroke-width="1.19"/></g><g opacity="0.92"><ellipse cx="667.5" cy="758.5" rx="2.2" ry="11.1" transform="rotate(32.0 667.5 758.5)" stroke="#1e1e1e" stroke-width="1.70"/><ellipse cx="669.1" cy="759.7" rx="2.2" ry="12.0" transform="rotate(32.0 669.1 759.7)" stroke="#6a6a6a" stroke-width="1.19"/><ellipse cx="674.3" cy="761.6" rx="2.5" ry="13.0" transform="rotate(32.0 674.3 761.6)" stroke="#1e1e1e" stroke-width="1.70"/><ellipse cx="674.4" cy="762.3" rx="2.7" ry="11.9" transform="rotate(32.0 674.4 762.3)" stroke="#6a6a6a" stroke-width="1.19"/><ellipse cx="679.1" cy="764.9" rx="2.1" ry="11.9" transform="rotate(32.0 679.1 764.9)" stroke="#1e1e1e" stroke-width="1.70"/><ellipse cx="681.5" cy="764.8" rx="2.1" ry="12.6" transform="rotate(32.0 681.5 764.8)" stroke="#6a6a6a" stroke-width="1.19"/><ellipse cx="684.4" cy="767.0" rx="2.9" ry="12.2" transform="rotate(32.0 684.4 767.0)" stroke="#1e1e1e" stroke-width="1.70"/><ellipse cx="686.0" cy="768.2" rx="2.7" ry="11.6" transform="rotate(32.0 686.0 768.2)" stroke="#6a6a6a" stroke-width="1.19"/><ellipse cx="690.6" cy="770.1" rx="2.7" ry="11.0" transform="rotate(32.0 690.6 770.1)" stroke="#1e1e1e" stroke-width="1.70"/><ellipse cx="692.4" cy="771.5" rx="2.1" ry="10.8" transform="rotate(32.0 692.4 771.5)" stroke="#6a6a6a" stroke-width="1.19"/><ellipse cx="697.5" cy="772.3" rx="2.5" ry="10.2" transform="rotate(32.0 697.5 772.3)" stroke="#1e1e1e" stroke-width="1.70"/><ellipse cx="698.3" cy="773.3" rx="2.7" ry="11.5" transform="rotate(32.0 698.3 773.3)" stroke="#6a6a6a" stroke-width="1.19"/><ellipse cx="703.7" cy="773.8" rx="2.3" ry="10.6" transform="rotate(32.0 703.7 773.8)" stroke="#1e1e1e" stroke-width="1.70"/><ellipse cx="705.9" cy="773.8" rx="1.9" ry="11.7" transform="rotate(32.0 705.9 773.8)" stroke="#6a6a6a" stroke-width="1.19"/><ellipse cx="709.4" cy="775.0" rx="2.4" ry="11.4" transform="rotate(32.0 709.4 775.0)" stroke="#1e1e1e" stroke-width="1.70"/><ellipse cx="711.4" cy="776.4" rx="2.4" ry="10.0" transform="rotate(32.0 711.4 776.4)" stroke="#6a6a6a" stroke-width="1.19"/><ellipse cx="716.3" cy="777.0" rx="2.5" ry="10.9" transform="rotate(32.0 716.3 777.0)" stroke="#1e1e1e" stroke-width="1.70"/><ellipse cx="717.8" cy="776.6" rx="2.7" ry="9.6" transform="rotate(32.0 717.8 776.6)" stroke="#6a6a6a" stroke-width="1.19"/><ellipse cx="722.9" cy="778.0" rx="2.3" ry="9.5" transform="rotate(32.0 722.9 778.0)" stroke="#1e1e1e" stroke-width="1.70"/><ellipse cx="724.9" cy="778.0" rx="2.4" ry="9.4" transform="rotate(32.0 724.9 778.0)" stroke="#6a6a6a" stroke-width="1.19"/><ellipse cx="729.7" cy="778.1" rx="2.2" ry="9.5" transform="rotate(32.0 729.7 778.1)" stroke="#1e1e1e" stroke-width="1.70"/><ellipse cx="731.2" cy="779.3" rx="2.1" ry="9.4" transform="rotate(32.0 731.2 779.3)" stroke="#6a6a6a" stroke-width="1.19"/><ellipse cx="735.1" cy="779.1" rx="2.1" ry="10.0" transform="rotate(32.0 735.1 779.1)" stroke="#1e1e1e" stroke-width="1.70"/><ellipse cx="737.0" cy="779.1" rx="2.6" ry="11.0" transform="rotate(32.0 737.0 779.1)" stroke="#6a6a6a" stroke-width="1.19"/><ellipse cx="741.4" cy="780.8" rx="2.3" ry="9.0" transform="rotate(32.0 741.4 780.8)" stroke="#1e1e1e" stroke-width="1.70"/><ellipse cx="744.6" cy="780.8" rx="2.3" ry="10.3" transform="rotate(32.0 744.6 780.8)" stroke="#6a6a6a" stroke-width="1.19"/><ellipse cx="748.0" cy="781.0" rx="2.1" ry="8.9" transform="rotate(32.0 748.0 781.0)" stroke="#1e1e1e" stroke-width="1.70"/><ellipse cx="750.1" cy="780.1" rx="2.7" ry="9.5" transform="rotate(32.0 750.1 780.1)" stroke="#6a6a6a" stroke-width="1.19"/><ellipse cx="755.3" cy="781.2" rx="2.4" ry="9.9" transform="rotate(32.0 755.3 781.2)" stroke="#1e1e1e" stroke-width="1.70"/><ellipse cx="756.2" cy="781.4" rx="2.6" ry="9.4" transform="rotate(32.0 756.2 781.4)" stroke="#6a6a6a" stroke-width="1.19"/><ellipse cx="762.1" cy="781.3" rx="2.6" ry="9.6" transform="rotate(32.0 762.1 781.3)" stroke="#1e1e1e" stroke-width="1.70"/><ellipse cx="763.1" cy="781.1" rx="2.8" ry="9.9" transform="rotate(32.0 763.1 781.1)" stroke="#6a6a6a" stroke-width="1.19"/><ellipse cx="768.4" cy="782.0" rx="2.6" ry="10.0" transform="rotate(32.0 768.4 782.0)" stroke="#1e1e1e" stroke-width="1.70"/><ellipse cx="770.0" cy="781.6" rx="2.5" ry="9.0" transform="rotate(32.0 770.0 781.6)" stroke="#6a6a6a" stroke-width="1.19"/><ellipse cx="773.8" cy="781.7" rx="2.6" ry="9.8" transform="rotate(32.0 773.8 781.7)" stroke="#1e1e1e" stroke-width="1.70"/><ellipse cx="776.4" cy="781.5" rx="2.4" ry="9.1" transform="rotate(32.0 776.4 781.5)" stroke="#6a6a6a" stroke-width="1.19"/><ellipse cx="781.1" cy="782.0" rx="2.8" ry="9.4" transform="rotate(32.0 781.1 782.0)" stroke="#1e1e1e" stroke-width="1.70"/><ellipse cx="782.2" cy="782.5" rx="2.3" ry="9.6" transform="rotate(32.0 782.2 782.5)" stroke="#6a6a6a" stroke-width="1.19"/><ellipse cx="787.4" cy="783.4" rx="2.4" ry="8.1" transform="rotate(32.0 787.4 783.4)" stroke="#1e1e1e" stroke-width="1.70"/><ellipse cx="788.7" cy="783.2" rx="2.4" ry="9.8" transform="rotate(32.0 788.7 783.2)" stroke="#6a6a6a" stroke-width="1.19"/><ellipse cx="793.3" cy="783.2" rx="2.6" ry="8.9" transform="rotate(32.0 793.3 783.2)" stroke="#1e1e1e" stroke-width="1.70"/><ellipse cx="795.7" cy="783.5" rx="2.4" ry="9.4" transform="rotate(32.0 795.7 783.5)" stroke="#6a6a6a" stroke-width="1.19"/><ellipse cx="800.2" cy="784.4" rx="2.6" ry="8.2" transform="rotate(32.0 800.2 784.4)" stroke="#1e1e1e" stroke-width="1.70"/><ellipse cx="802.0" cy="784.2" rx="2.9" ry="8.0" transform="rotate(32.0 802.0 784.2)" stroke="#6a6a6a" stroke-width="1.19"/><ellipse cx="806.6" cy="783.5" rx="2.3" ry="8.2" transform="rotate(32.0 806.6 783.5)" stroke="#1e1e1e" stroke-width="1.70"/><ellipse cx="807.9" cy="784.3" rx="2.6" ry="8.4" transform="rotate(32.0 807.9 784.3)" stroke="#6a6a6a" stroke-width="1.19"/><ellipse cx="813.1" cy="784.4" rx="2.6" ry="7.8" transform="rotate(32.0 813.1 784.4)" stroke="#1e1e1e" stroke-width="1.70"/><ellipse cx="815.8" cy="785.0" rx="2.7" ry="7.8" transform="rotate(32.0 815.8 785.0)" stroke="#6a6a6a" stroke-width="1.19"/><ellipse cx="819.6" cy="784.9" rx="2.7" ry="7.4" transform="rotate(32.0 819.6 784.9)" stroke="#1e1e1e" stroke-width="1.70"/><ellipse cx="822.1" cy="785.7" rx="2.5" ry="7.9" transform="rotate(32.0 822.1 785.7)" stroke="#6a6a6a" stroke-width="1.19"/><ellipse cx="825.8" cy="786.5" rx="2.5" ry="7.4" transform="rotate(32.0 825.8 786.5)" stroke="#1e1e1e" stroke-width="1.70"/><ellipse cx="828.6" cy="786.4" rx="2.2" ry="7.6" transform="rotate(32.0 828.6 786.4)" stroke="#6a6a6a" stroke-width="1.19"/><ellipse cx="832.8" cy="785.5" rx="2.3" ry="7.8" transform="rotate(32.0 832.8 785.5)" stroke="#1e1e1e" stroke-width="1.70"/><ellipse cx="835.1" cy="785.8" rx="2.2" ry="7.1" transform="rotate(32.0 835.1 785.8)" stroke="#6a6a6a" stroke-width="1.19"/><ellipse cx="839.1" cy="785.9" rx="2.6" ry="6.3" transform="rotate(32.0 839.1 785.9)" stroke="#1e1e1e" stroke-width="1.70"/><ellipse cx="840.7" cy="786.0" rx="2.4" ry="6.7" transform="rotate(32.0 840.7 786.0)" stroke="#6a6a6a" stroke-width="1.19"/><ellipse cx="845.6" cy="786.8" rx="2.3" ry="6.9" transform="rotate(32.0 845.6 786.8)" stroke="#1e1e1e" stroke-width="1.70"/><ellipse cx="848.2" cy="787.3" rx="2.7" ry="6.1" transform="rotate(32.0 848.2 787.3)" stroke="#6a6a6a" stroke-width="1.19"/><ellipse cx="852.9" cy="787.3" rx="2.7" ry="5.9" transform="rotate(32.0 852.9 787.3)" stroke="#1e1e1e" stroke-width="1.70"/><ellipse cx="854.3" cy="786.1" rx="2.8" ry="5.7" transform="rotate(32.0 854.3 786.1)" stroke="#6a6a6a" stroke-width="1.19"/></g></g><g fill="none" stroke="#000" stroke-width="4.4"><circle cx="356.3" cy="448" r="151"/><circle cx="356.3" cy="448" r="139.4"/><circle cx="767" cy="205.1" r="151"/><circle cx="767" cy="205.1" r="139.4"/><circle cx="1157.2" cy="206.9" r="151"/><circle cx="1157.2" cy="206.9" r="139.4"/><circle cx="771.5" cy="694" r="151"/><circle cx="771.5" cy="694" r="139.4"/><circle cx="1161.6" cy="692.4" r="151"/><circle cx="1161.6" cy="692.4" r="139.4"/></g><g fill="#ed1c24"><polygon points="259.5,334.9 293.3,357.9 286.2,368.7 249.7,347.7"/><polygon points="383.8,301.7 398.1,306.9 380.1,349.8 365.1,344.6"/><polygon points="285.1,529.1 299.3,537.4 279.7,573.2 265.5,564.9"/><polygon points="331.6,548.4 348.6,550.9 343.7,592.6 326.7,590.1"/><polygon points="671.4,91.1 705.8,114.6 696.0,128.5 661.8,104.7"/><polygon points="801.5,61.0 816.3,65.9 798.2,108.6 783.5,103.6"/><polygon points="715.7,294.8 730.2,303.0 710.5,339.3 696.0,331.6"/><polygon points="758.4,309.6 775.5,311.5 770.8,353.0 753.7,350.9"/><polygon points="655.7,602.7 690.9,626.3 682.0,640.0 646.8,616.4"/><polygon points="794.7,548.3 809.1,553.1 791.0,595.7 776.6,590.9"/><polygon points="714.9,782.1 729.3,790.1 709.6,826.7 695.2,818.7"/><polygon points="779.6,798.5 796.8,800.5 791.9,841.6 774.6,839.9"/></g><g fill="#3953a4"><circle cx="272.3" cy="375.4" r="14.4"/><circle cx="395.6" cy="342.2" r="14.4"/><circle cx="307.4" cy="542.4" r="14.4"/><circle cx="358.7" cy="555.5" r="14.4"/><circle cx="678.0" cy="642.0" r="14.4"/><circle cx="801.6" cy="592.2" r="14.4"/><circle cx="733.4" cy="793.7" r="14.4"/></g><circle cx="734.3" cy="121.5" r="14.5" fill="#7ac143"/><line x1="747.1" y1="121.4" x2="778.0" y2="121.4" stroke="#000" stroke-width="2.5"/><text transform="translate(779.5,134.7) scale(1.2,1)" font-size="32.8">P</text><circle cx="819.1" cy="189.7" r="14.5" fill="#7ac143"/><line x1="832.4" y1="189.6" x2="862.7" y2="189.6" stroke="#000" stroke-width="2.5"/><text transform="translate(865.6,201.0) scale(1.2,1)" font-size="32.8">P</text><circle cx="713.2" cy="226.7" r="14.5" fill="#7ac143"/><line x1="726.1" y1="226.7" x2="756.8" y2="226.7" stroke="#000" stroke-width="2.5"/><text transform="translate(760.8,238.6) scale(1.2,1)" font-size="32.8">P</text><circle cx="819.0" cy="247.6" r="14.5" fill="#7ac143"/><line x1="832.1" y1="247.5" x2="861.0" y2="247.5" stroke="#000" stroke-width="2.5"/><text transform="translate(863.9,258.7) scale(1.2,1)" font-size="32.8">P</text><circle cx="815.4" cy="742.0" r="14.5" fill="#7ac143"/><line x1="828.2" y1="742.0" x2="859.1" y2="742.0" stroke="#000" stroke-width="2.5"/><text transform="translate(860.3,750.7) scale(1.2,1)" font-size="32.8">P</text><!-- arrows -->
<g stroke="#000" stroke-width="3.9" fill="none">
<line x1="504" y1="355.3" x2="596" y2="297"/>
<line x1="500" y1="538.8" x2="597" y2="599"/>
<line x1="925.6" y1="201.5" x2="964" y2="201.5"/>
<line x1="929.2" y1="688.6" x2="970" y2="688.6"/>
<line x1="1364.7" y1="55.2" x2="1189.1" y2="163.7"/>
<polyline points="1195.4,577.7 1349.5,547.5 1156.9,784" stroke-linejoin="round"/>
</g>
<g fill="#000">
<polygon points="624.2,282.3 576.5,286.1 594.7,297.6 599.1,322.7"/>
<polygon points="626.1,614.7 601,573.9 596.6,599 578.4,610.9"/>
<polygon points="995.7,201.3 952.3,179.7 962.2,201.3 952.3,222.9"/>
<polygon points="1002.4,688.7 959.3,666.8 968.9,688.7 959.3,710.3"/>
</g>
<polygon points="534.5,432 735.9,432 632.9,355.4 1167.1,452.9 633.4,548.9 735.9,473.8 534.5,473.8" fill="#c8c8c8" stroke="#e4e2d6" stroke-width="5" stroke-linejoin="round"/><polygon points="534.5,432 735.9,432 632.9,355.4 1167.1,452.9 633.4,548.9 735.9,473.8 534.5,473.8" fill="none" stroke="#2b4fa8" stroke-width="2.6" stroke-linejoin="round"/>
<text transform="translate(585.3,464.7) scale(1.052,1)" font-size="37.8">Формирование кариосомы</text>
<text transform="translate(1163.5,30.7) scale(1.0456,1)" font-size="37.8">Нормальная кариосома</text>
<text transform="translate(1168,522.8) scale(1.0516,1)" font-size="37.8">Дефектная кариосома</text>
<text transform="translate(429.2,260.5) scale(1.21,1.14)" font-size="42">+</text><text transform="translate(466.7,258.7) scale(1.0805,1)" font-size="42">NHK-1</text>
<text transform="translate(428.3,668.1) scale(1.29,1)" font-size="42">−</text><text transform="translate(466.7,663.7) scale(1.0805,1)" font-size="42">NHK-1</text>
<rect x="10.8" y="644.4" width="42.2" height="17.5" fill="#ed1c24"/>
<circle cx="31.4" cy="716.5" r="14.6" fill="#3953a4"/>
<circle cx="32.3" cy="785.8" r="14.8" fill="#7ac143"/>
<line x1="46" y1="785.8" x2="76" y2="785.8" stroke="#000" stroke-width="2.6"/>
<text transform="translate(81.2,663.7) scale(1.0632,1)" font-size="29.3">LEMD-белки</text>
<text transform="translate(81.2,724.8) scale(1.0548,1)" font-size="29.3">Нефосфорилированный BAF</text>
<text transform="translate(81.2,792.7) scale(1.0533,1)" font-size="29.3">P фосфорилированный BAF</text>
<text transform="translate(4.0,865.7) scale(1.082,1)" font-size="37.7">NHK-1</text><text transform="translate(135.4,865.7) scale(1.272,1)" font-size="37.7">=</text><text transform="translate(170.3,865.7) scale(0.986,1)" font-size="37.7">VPK1</text><text transform="translate(272.2,865.7)" font-size="37.7">у</text><text transform="translate(298.3,865.7) scale(1.06,1)" font-size="37.7">дрозофилы</text>
</svg>
</body></html>
